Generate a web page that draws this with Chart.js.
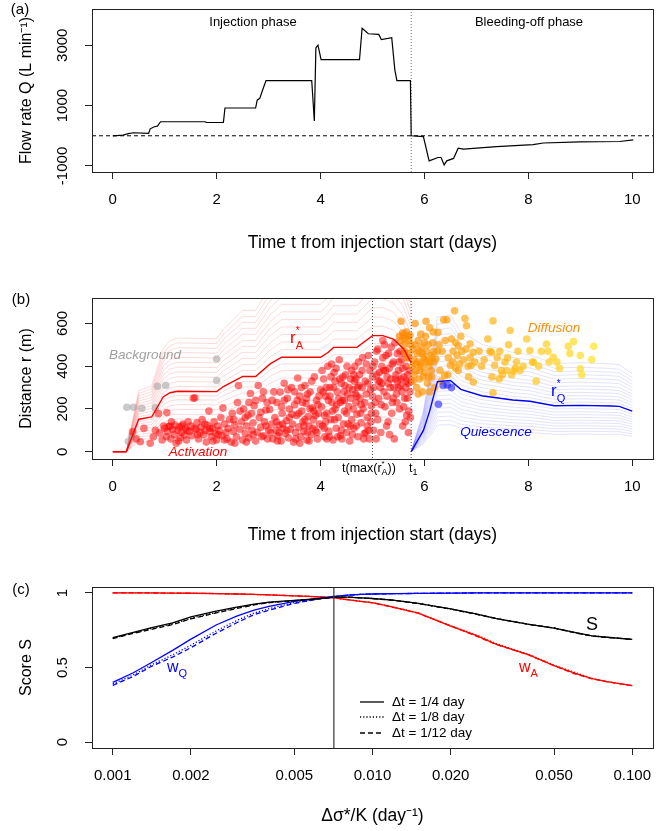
<!DOCTYPE html>
<html>
<head>
<meta charset="utf-8">
<script src="https://cdn.jsdelivr.net/npm/chart.js@4.4.1/dist/chart.umd.min.js"></script>
<style>
  body { margin: 0; background: #fff; width: 665px; height: 831px; overflow: hidden; position: relative; }
  canvas { position: absolute; left: 0; }
</style>
</head>
<body>
<canvas id="chartA" width="665" height="265" style="top:0px"></canvas>
<canvas id="chartB" width="665" height="290" style="top:265px"></canvas>
<canvas id="chartC" width="665" height="276" style="top:555px"></canvas>
<script>
// ---- panel (a): flow rate ----
const flowT = [0, 0.2, 0.3, 0.4, 0.69, 0.72, 0.8, 0.86, 0.92, 1.78, 1.8, 2.13, 2.16, 2.75, 2.78, 2.83, 2.89, 2.95,
  3.83, 3.88, 3.91, 3.95, 4.01, 4.75, 4.8, 4.92, 5.12, 5.17, 5.37, 5.43, 5.47, 5.73, 5.745, 5.98, 6.09, 6.26,
  6.32, 6.38, 6.43, 6.56, 6.65, 6.75, 7.39, 8.09, 8.29, 8.99, 9.76, 10.02];
const flowQ = [0, 20, 70, 100, 80, 230, 300, 320, 465, 465, 440, 445, 920, 920, 1180, 1240, 1540, 1830,
  1830, 487, 2910, 3000, 2520, 2520, 3560, 3380, 3360, 3190, 3250, 2185, 1830, 1830, 0, -30, -830, -720,
  -720, -965, -830, -750, -410, -440, -360, -295, -240, -205, -190, -135];
const dayTicks = [0, 2, 4, 6, 8, 10];
const dayLabels = ['0', '2', '4', '6', '8', '10'];
const flowTicks = [-1000, 1000, 3000];
const flowLabels = ['-1000', '1000', '3000'];
const t1 = 5.745;

// ---- panel (b): distance ----
const raT = [0, 0.26, 0.5, 0.75, 0.97, 1.1, 1.25, 2.0, 2.13, 2.5, 2.75, 3.03, 3.25, 4.0, 4.15, 4.25, 4.7, 5.0, 5.2, 5.4, 5.6, 5.745];
const raR = [0, 0, 152, 163, 256, 276, 283, 281, 305, 352, 352, 411, 442, 442, 465, 488, 488, 543, 543, 527, 481, 415];
const rqT = [5.745, 5.98, 6.1, 6.25, 6.5, 6.7, 7.1, 7.7, 8.03, 8.5, 9.0, 9.6, 9.75, 10.0];
const rqR = [0, 100, 190, 328, 333, 292, 262, 242, 236, 215, 217, 214, 212, 190];
// relative levels of the faint curves, read against r_A* and r_Q*
const raFan = [0.3, 0.38, 0.46, 0.54, 0.62, 0.7, 0.78, 0.86, 0.93, 1.08, 1.16, 1.24, 1.32, 1.4, 1.48, 1.56, 1.64, 1.72, 1.8, 1.88];
const rqFan = [0.38, 0.44, 0.5, 0.56, 0.62, 0.68, 0.74, 0.8, 0.86, 0.93, 1.07, 1.14, 1.21, 1.28, 1.35, 1.42, 1.5, 1.58, 1.66, 1.74, 1.82, 1.92];
const tMaxRA = 5.0;
const distTicks = [0, 200, 400, 600];
const distLabels = ['0', '200', '400', '600'];

const backgroundPts = [[0.27,208],[0.4,208],[0.56,203],[0.86,306],[1.02,310],[2.0,434],[2.0,333],[0.3,48],[0.36,72],[0.82,205]];
const activationPts = [
  [0.38,93],[0.45,60],[0.53,47],[0.6,109],[0.72,40],[0.78,70],[0.82,100],[0.88,178],[0.9,88],[0.95,55],[0.98,120],[1.0,110],
  [1.04,183],[1.05,95],[1.08,118],[1.1,120],[1.12,60],[1.15,105],[1.18,80],[1.2,125],[1.22,40],[1.25,100],[1.28,115],[1.3,65],
  [1.32,90],[1.35,130],[1.38,78],[1.4,110],[1.42,55],[1.45,140],[1.47,95],[1.5,120],[1.52,75],[1.55,250],[1.58,252],[1.6,105],
  [1.62,135],[1.65,60],[1.68,90],[1.7,115],[1.72,150],[1.75,80],[1.78,100],[1.8,45],[1.82,125],[1.85,190],[1.87,95],[1.9,70],
  [1.92,110],[1.95,140],[1.98,85],[2.0,55],[1.13,140],[1.27,50],[1.43,100],[1.63,80],[1.77,130],[1.93,50],[1.57,110],[1.33,120],
  [1.03,70],[1.87,110],
  [2.02,120],[2.05,100],[2.08,160],[2.1,75],[2.12,205],[2.15,130],[2.18,90],[2.2,60],[2.22,110],[2.25,150],[2.28,45],[2.3,180],
  [2.32,95],[2.35,125],[2.38,70],[2.4,230],[2.42,310],[2.45,105],[2.48,140],[2.5,55],[2.52,200],[2.55,85],[2.58,120],[2.6,170],
  [2.62,65],[2.65,272],[2.68,100],[2.7,135],[2.72,215],[2.75,50],[2.78,90],[2.8,310],[2.82,160],[2.85,115],[2.88,250],[2.9,75],
  [2.92,140],[2.95,195],[2.98,60],[3.0,100],[2.45,190],[2.55,160],[2.7,80],[2.85,185],[2.62,230],[2.35,40],[2.15,55],[2.75,240],
  [2.95,120],[2.9,280],[2.03,80],[2.33,150],[2.57,45],[2.67,180],[2.87,70],[2.97,230],
  [3.02,198],[3.04,90],[3.06,130],[3.08,60],[3.1,280],[3.12,160],[3.14,100],[3.16,230],[3.18,75],[3.2,125],[3.22,279],[3.24,50],
  [3.26,180],[3.28,110],[3.3,320],[3.32,85],[3.34,145],[3.36,250],[3.38,65],[3.4,200],[3.42,105],[3.44,300],[3.46,130],[3.48,45],
  [3.5,220],[3.52,90],[3.54,170],[3.56,345],[3.58,115],[3.6,260],[3.62,70],[3.64,190],[3.66,140],[3.68,95],[3.7,310],[3.72,225],
  [3.74,55],[3.76,165],[3.78,120],[3.8,280],[3.82,80],[3.84,205],[3.86,150],[3.88,350],[3.9,100],[3.92,240],[3.94,60],[3.96,180],
  [3.98,130],[4.0,290],[3.15,140],[3.25,210],[3.35,100],[3.45,175],[3.55,240],[3.65,230],[3.75,270],[3.85,110],[3.95,220],[3.6,40],
  [3.7,150],[3.8,200],[3.5,280],[3.4,160],[3.3,240],[3.2,90],[3.9,170],[3.75,90],[3.07,240],[3.17,50],[3.27,130],[3.37,290],
  [3.52,60],[3.58,180],[3.63,300],[3.68,120],[3.73,250],[3.78,50],[3.83,330],[3.87,190],[3.93,90],[3.97,260],
  [4.02,210],[4.04,120],[4.06,340],[4.08,70],[4.1,260],[4.12,180],[4.14,400],[4.16,95],[4.18,300],[4.2,150],[4.22,230],[4.24,55],
  [4.26,370],[4.28,200],[4.3,110],[4.32,280],[4.34,160],[4.36,430],[4.38,75],[4.4,320],[4.42,240],[4.44,130],[4.46,190],[4.48,360],
  [4.5,90],[4.52,270],[4.54,210],[4.56,50],[4.58,340],[4.6,150],[4.62,290],[4.64,110],[4.66,400],[4.68,230],[4.7,175],[4.72,70],
  [4.74,310],[4.76,250],[4.78,135],[4.8,380],[4.82,200],[4.84,85],[4.86,330],[4.88,270],[4.9,160],[4.92,450],[4.94,60],[4.96,290],
  [4.98,215],[5.0,350],[4.05,280],[4.15,240],[4.25,300],[4.35,250],[4.45,280],[4.55,300],[4.65,330],[4.75,360],[4.85,230],[4.95,380],
  [4.1,140],[4.2,350],[4.3,390],[4.4,100],[4.5,180],[4.6,380],[4.7,260],[4.8,300],[4.9,120],[5.0,260],[4.12,60],[4.33,70],
  [4.57,120],[4.83,60],[4.93,100],[4.23,190],[4.43,350],[4.63,200],[4.73,420],[4.88,410],[4.47,310],[4.67,270],[4.78,220],[4.98,180],
  [4.38,230],[4.28,330],[4.18,260],[4.08,170],[4.58,250],[4.68,340],[4.03,380],[4.07,110],[4.11,300],[4.17,70],[4.21,410],[4.27,150],
  [4.31,220],[4.37,340],[4.41,60],[4.46,240],[4.51,400],[4.53,130],[4.61,80],[4.64,360],[4.69,120],[4.71,300],[4.77,180],[4.81,440],
  [4.87,90],[4.91,320],[4.97,140],
  [5.02,300],[5.04,420],[5.06,180],[5.08,360],[5.1,480],[5.12,250],[5.14,330],[5.16,90],[5.18,400],[5.2,520],[5.22,280],[5.24,210],
  [5.26,450],[5.28,350],[5.3,140],[5.32,390],[5.34,300],[5.36,490],[5.38,230],[5.4,420],[5.42,60],[5.44,340],[5.46,270],[5.48,460],
  [5.5,380],[5.52,200],[5.54,310],[5.56,430],[5.58,120],[5.6,350],[5.62,250],[5.64,400],[5.66,170],[5.68,320],[5.7,440],[5.72,280],
  [5.05,230],[5.15,300],[5.25,380],[5.35,340],[5.45,360],[5.55,340],[5.65,330],[5.1,150],[5.2,440],[5.3,320],[5.4,250],[5.5,300],
  [5.6,210],[5.7,190],[5.08,470],[5.18,320],[5.28,260],[5.38,410],[5.48,330],[5.58,390],[5.68,360],[5.02,100],[5.33,80],[5.63,140],
  [5.23,500],[5.43,510],[5.13,370],[5.53,470],[5.01,400],[5.07,60],[5.11,330],[5.17,220],[5.21,380],[5.27,120],[5.31,460],[5.37,180],
  [5.41,300],[5.47,230],[5.51,420],[5.57,280],[5.61,460],[5.67,250],[5.71,380],[5.74,330],[5.73,160],[5.69,90],[5.64,300]
];
const diffusionPts = [
  [5.52,540],[5.55,520],[5.58,555],[5.6,545],[5.62,530],[5.65,560],[5.68,540],[5.7,520],[5.72,545],[5.55,610],[5.62,470],
  [5.66,440],[5.7,460],[5.73,500],[5.6,500],
  [5.78,480],[5.8,430],[5.82,600],[5.84,380],[5.86,460],[5.88,520],[5.9,340],[5.92,410],[5.94,490],[5.96,280],[5.98,440],
  [6.0,370],[6.02,540],[6.04,470],[6.06,320],[6.08,400],[6.1,580],[6.12,450],[6.14,350],[6.16,510],[6.18,420],[6.2,300],
  [5.8,360],[5.85,300],[5.9,470],[5.95,400],[6.0,510],[6.05,420],[6.1,280],[6.15,440],[5.78,330],[5.83,410],[5.88,270],
  [5.93,550],[5.98,350],[6.03,610],[6.08,350],[6.13,380],[6.18,470],[5.82,500],[5.96,460],[6.07,500],[5.76,400],[5.87,420],
  [6.11,420],[5.91,380],[6.01,430],[6.17,560],
  [6.22,434],[6.26,558],[6.28,500],[6.3,380],[6.34,470],[6.37,617],[6.39,357],[6.4,520],[6.43,617],[6.46,440],[6.5,405],
  [6.52,527],[6.55,470],[6.58,659],[6.6,390],[6.63,450],[6.65,496],[6.68,410],[6.7,540],[6.72,470],[6.75,430],[6.78,623],
  [6.8,480],[6.81,589],[6.84,400],[6.88,505],[6.9,403],[6.94,465],[6.94,326],[6.97,420],[6.25,470],[6.45,360],[6.55,420],
  [6.65,380],[6.85,350],[6.32,330],[6.6,510],[6.88,440],
  [7.05,470],[7.1,400],[7.15,430],[7.22,527],[7.26,470],[7.29,465],[7.32,612],[7.32,276],[7.35,403],[7.4,440],[7.45,470],
  [7.48,380],[7.5,360],[7.55,420],[7.58,380],[7.62,500],[7.65,567],[7.68,360],[7.72,380],[7.75,390],[7.8,470],[7.84,380],
  [7.9,400],[7.97,527],[7.3,350],[7.6,440],[7.44,340],[7.77,420],
  [8.03,473],[8.08,420],[8.1,418],[8.2,400],[8.25,470],[8.35,504],[8.38,470],[8.4,420],[8.48,442],[8.6,390],[8.77,493],
  [8.87,515],[8.8,460],[9.0,450],[9.0,388],[9.03,360],[9.22,431],[9.26,493],[8.55,420],[8.15,330]
];
const quiescencePts = [[6.27,222],[6.36,310],[6.44,312],[6.52,300]];

// ---- panel (c): score ----
const dsK = [0.001, 0.0012, 0.0014, 0.0017, 0.002, 0.0025, 0.003, 0.0035, 0.004, 0.005, 0.006, 0.0071, 0.008,
  0.009, 0.01, 0.012, 0.015, 0.02, 0.025, 0.03, 0.04, 0.05, 0.06, 0.07, 0.08, 0.1];
const sQuarter = [0.70, 0.735, 0.765, 0.80, 0.84, 0.878, 0.905, 0.925, 0.938, 0.95, 0.96, 0.972, 0.972, 0.967, 0.963, 0.952, 0.93, 0.893, 0.86, 0.828, 0.79, 0.764, 0.735, 0.712, 0.703, 0.689];
const sEighth = [0.697, 0.732, 0.76, 0.793, 0.83, 0.87, 0.9, 0.922, 0.936, 0.949, 0.959, 0.971, 0.972, 0.967, 0.963, 0.952, 0.93, 0.892, 0.859, 0.828, 0.79, 0.765, 0.734, 0.712, 0.703, 0.689];
const sTwelfth = [0.694, 0.729, 0.755, 0.788, 0.826, 0.866, 0.896, 0.92, 0.935, 0.948, 0.958, 0.97, 0.972, 0.967, 0.962, 0.951, 0.929, 0.892, 0.858, 0.828, 0.789, 0.765, 0.733, 0.711, 0.702, 0.688];
const wqQuarter = [0.40, 0.465, 0.53, 0.615, 0.69, 0.785, 0.845, 0.885, 0.91, 0.944, 0.96, 0.977, 0.985, 0.99, 0.993, 0.995, 0.997, 0.999, 1, 1, 1, 1, 1, 1, 1, 1];
const wqEighth = [0.39, 0.45, 0.515, 0.585, 0.65, 0.745, 0.815, 0.865, 0.895, 0.935, 0.957, 0.975, 0.985, 0.99, 0.993, 0.995, 0.997, 0.999, 1, 1, 1, 1, 1, 1, 1, 1];
const wqTwelfth = [0.38, 0.44, 0.505, 0.57, 0.633, 0.73, 0.8, 0.855, 0.885, 0.93, 0.955, 0.974, 0.985, 0.99, 0.993, 0.995, 0.997, 0.999, 1, 1, 1, 1, 1, 1, 1, 1];
const waQuarter = [1, 1, 1, 0.999, 0.998, 0.996, 0.993, 0.99, 0.987, 0.981, 0.975, 0.968, 0.955, 0.944, 0.935, 0.905, 0.865, 0.778, 0.715, 0.655, 0.585, 0.513, 0.463, 0.425, 0.405, 0.378];
const waEighth = [1, 1, 1, 0.999, 0.998, 0.996, 0.993, 0.99, 0.987, 0.981, 0.975, 0.968, 0.955, 0.944, 0.935, 0.906, 0.867, 0.781, 0.721, 0.66, 0.587, 0.515, 0.468, 0.427, 0.406, 0.379];
const waTwelfth = [1, 1, 1, 0.999, 0.998, 0.996, 0.993, 0.99, 0.987, 0.981, 0.975, 0.968, 0.955, 0.944, 0.934, 0.904, 0.864, 0.779, 0.712, 0.654, 0.584, 0.512, 0.458, 0.424, 0.404, 0.377];
const kTicks = [0.001, 0.002, 0.005, 0.01, 0.02, 0.05, 0.1];
const kLabels = ['0.001', '0.002', '0.005', '0.010', '0.020', '0.050', '0.100'];
const scoreTicks = [0, 0.5, 1];
const scoreLabels = ['0', '0.5', '1'];
const kOpt = 0.0071;

// ---- shared helpers ----
const FONT = '"Liberation Sans", Arial, Helvetica, sans-serif';
Chart.defaults.font.family = FONT;
Chart.defaults.color = '#000';
const TICK_SIZE = 15;
const XTITLE_SIZE = 17.5;
const YTITLE_SIZE = 16;

const measureCtx = document.createElement('canvas').getContext('2d');
function textWidth(s, size) {
  measureCtx.font = size + 'px ' + FONT;
  return measureCtx.measureText(s).width;
}
function yLabelPad(labels) {
  const w = Math.max(...labels.map(l => textWidth(l, TICK_SIZE)));
  return 92 - 7 - 63 - w / 2;
}
const tickGrid = { display: true, drawOnChartArea: false, drawTicks: true, tickLength: 7, color: '#222', lineWidth: 1 };

function xAxis(type, min, max, ticks, labels, title, height, titlePad) {
  return {
    type: type, min: min, max: max, position: 'bottom',
    grid: tickGrid, border: { display: false },
    afterBuildTicks: s => { s.ticks = ticks.map(v => ({ value: v })); },
    afterFit: s => { s.height = height; s.paddingLeft = 0; s.paddingRight = 0; },
    ticks: { autoSkip: false, minRotation: 0, maxRotation: 0, padding: 12, font: { size: TICK_SIZE }, color: '#000',
      callback: (v, i) => labels[i] },
    title: { display: true, text: title, font: { size: XTITLE_SIZE }, color: '#000', padding: { top: 0, bottom: titlePad } }
  };
}
function yAxis(min, max, ticks, labels, title) {
  return {
    type: 'linear', min: min, max: max, position: 'left',
    grid: tickGrid, border: { display: false },
    afterBuildTicks: s => { s.ticks = ticks.map(v => ({ value: v })); },
    afterFit: s => { s.width = 92; s.paddingTop = 0; s.paddingBottom = 0; },
    ticks: { autoSkip: false, minRotation: 90, maxRotation: 90, crossAlign: 'center', padding: yLabelPad(labels),
      font: { size: TICK_SIZE }, color: '#000', callback: (v, i) => labels[i] },
    title: { display: true, text: title, font: { size: YTITLE_SIZE }, color: '#000', padding: { top: 17, bottom: 0 } }
  };
}
function drawBox(chart) {
  const a = chart.chartArea, c = chart.ctx;
  c.save();
  c.strokeStyle = '#222';
  c.lineWidth = 1;
  c.strokeRect(Math.round(a.left) + 0.5, Math.round(a.top) + 0.5, Math.round(a.right - a.left), Math.round(a.bottom - a.top));
  c.restore();
}
function vline(chart, xv, dash, color, width) {
  const a = chart.chartArea, c = chart.ctx, px = chart.scales.x.getPixelForValue(xv);
  c.save();
  c.strokeStyle = color; c.lineWidth = width; c.setLineDash(dash);
  c.beginPath(); c.moveTo(px, a.top); c.lineTo(px, a.bottom); c.stroke();
  c.restore();
}
function hline(chart, yv, dash, color, width) {
  const a = chart.chartArea, c = chart.ctx, py = chart.scales.y.getPixelForValue(yv);
  c.save();
  c.strokeStyle = color; c.lineWidth = width; c.setLineDash(dash);
  c.beginPath(); c.moveTo(a.left, py); c.lineTo(a.right, py); c.stroke();
  c.restore();
}
function label(c, s, x, y, size, color, style, align) {
  c.save();
  c.font = (style || '') + ' ' + size + 'px ' + FONT;
  c.fillStyle = color;
  c.textAlign = align || 'center';
  c.textBaseline = 'middle';
  c.fillText(s, x, y);
  c.restore();
}
// parts: [text, size, dy, stackOnPrevious]; y is the baseline
function rich(c, parts, x, y, color, align) {
  c.save();
  c.fillStyle = color;
  c.textBaseline = 'alphabetic';
  let w = 0, prevX = 0;
  const xs = [];
  parts.forEach(p => {
    const pw = textWidth(p[0], p[1]);
    if (p[3]) { xs.push(prevX); w = Math.max(w, prevX + pw); }
    else { prevX = w; xs.push(w); w += pw; }
  });
  const x0 = align === 'center' ? x - w / 2 : x;
  parts.forEach((p, i) => {
    c.font = p[1] + 'px ' + FONT;
    c.fillText(p[0], x0 + xs[i], y + p[2]);
  });
  c.restore();
}
function pts(arr) { return arr.map(p => ({ x: p[0], y: p[1] })); }
function series(xs, ys) { return xs.map((x, i) => ({ x: x, y: ys[i] })); }
function scaled(xs, ys, f) { return xs.map((x, i) => ({ x: x, y: ys[i] * f })); }

const baseOptions = {
  responsive: false, animation: false, devicePixelRatio: 1,
  plugins: { legend: { display: false }, tooltip: { enabled: false } }
};

// ---- chart (a) ----
new Chart(document.getElementById('chartA'), {
  type: 'scatter',
  data: {
    datasets: [{
      data: series(flowT, flowQ), showLine: true, borderColor: '#000', borderWidth: 1.2,
      pointRadius: 0, tension: 0
    }]
  },
  options: Object.assign({}, baseOptions, {
    layout: { padding: { top: 9, right: 12, bottom: 0, left: 0 } },
    scales: {
      x: xAxis('linear', -0.4, 10.4, dayTicks, dayLabels, 'Time t from injection start (days)', 93, 11),
      y: yAxis(-1200, 4200, flowTicks, flowLabels, 'Flow rate Q (L min\u207B\u00B9)')
    }
  }),
  plugins: [{
    id: 'decorA',
    beforeDatasetsDraw(chart) {
      hline(chart, 0, [4, 3], '#000', 1);
      vline(chart, t1, [1, 2], '#777', 1);
    },
    afterDraw(chart) {
      const c = chart.ctx;
      drawBox(chart);
      label(c, 'Injection phase', 253, 22, 13, '#000');
      label(c, 'Bleeding-off phase', 529, 22, 13, '#000');
      label(c, '(a)', 20, 10, 15, '#000');
    }
  }]
});

// ---- chart (b) ----
const faintRed = 'rgba(255, 0, 0, 0.15)';
const faintBlue = 'rgba(40, 40, 255, 0.13)';
const fanSets = raFan.map(f => ({
  data: scaled(raT, raR, f), showLine: true, borderColor: faintRed, borderWidth: 1, pointRadius: 0, order: 3
})).concat(rqFan.map(f => ({
  data: scaled(rqT, rqR, f), showLine: true, borderColor: faintBlue, borderWidth: 1, pointRadius: 0, order: 3
})));
function diffusionColor(ctx) {
  const t = ctx.raw ? ctx.raw.x : 6;
  const f = Math.min(1, Math.max(0, (t - 5.6) / 3.6));
  const g = Math.round(135 + f * 90), b = Math.round(f * 30);
  return 'rgba(255,' + g + ',' + b + ',0.68)';
}
new Chart(document.getElementById('chartB'), {
  type: 'scatter',
  data: {
    datasets: [
      { data: series(raT, raR), showLine: true, borderColor: '#ff0000', borderWidth: 1.4, pointRadius: 0, order: 0 },
      { data: series(rqT, rqR), showLine: true, borderColor: '#0000ff', borderWidth: 1.4, pointRadius: 0, order: 0 },
      { data: pts(quiescencePts), pointRadius: 3.8, borderWidth: 0, backgroundColor: 'rgba(30,30,255,0.6)', order: 1 },
      { data: pts(diffusionPts), pointRadius: 3.8, borderWidth: 0, backgroundColor: diffusionColor, order: 1 },
      { data: pts(activationPts), pointRadius: 3.8, borderWidth: 0, backgroundColor: 'rgba(255,0,0,0.52)', order: 2 },
      { data: pts(backgroundPts), pointRadius: 3.8, borderWidth: 0, backgroundColor: 'rgba(150,150,150,0.5)', order: 2 }
    ].concat(fanSets)
  },
  options: Object.assign({}, baseOptions, {
    layout: { padding: { top: 33, right: 12, bottom: 0, left: 0 } },
    scales: {
      x: xAxis('linear', -0.4, 10.4, dayTicks, dayLabels, 'Time t from injection start (days)', 96, 9),
      y: yAxis(-34, 719, distTicks, distLabels, 'Distance r (m)')
    }
  }),
  plugins: [{
    id: 'decorB',
    afterDatasetsDraw(chart) {
      vline(chart, tMaxRA, [1, 2], '#555', 1);
      vline(chart, t1, [1, 2], '#555', 1);
    },
    afterDraw(chart) {
      const c = chart.ctx;
      drawBox(chart);
      label(c, '(b)', 21, 35, 15, '#000');
      label(c, 'Background', 145, 90, 13.5, '#a0a0a0', 'italic');
      label(c, 'Activation', 198, 187, 13.5, '#ff0000', 'italic');
      label(c, 'Diffusion', 554, 63, 13.5, '#ff8c00', 'italic');
      label(c, 'Quiescence', 496, 167, 13.5, '#0000ff', 'italic');
      rich(c, [['r', 17, 0], ['A', 11, 6], ['*', 10, -9, true]], 290, 78, '#ff0000');
      rich(c, [['r', 17, 0], ['Q', 11, 6], ['*', 10, -9, true]], 551, 131, '#0000ff');
      rich(c, [['t(max(r', 12.5, 0], ['A', 9, 3], ['*', 8, -6, true], ['))', 12.5, 0]], 342, 207, '#000');
      rich(c, [['t', 12.5, 0], ['1', 9, 3]], 409, 207, '#000');
    }
  }]
});

// ---- chart (c) ----
const dotted = [1.2, 2];
const dashed = [5, 3];
function scoreSet(ys, color, dash) {
  return { data: series(dsK, ys), showLine: true, borderColor: color, borderWidth: 1.3, borderDash: dash, pointRadius: 0, tension: 0 };
}
new Chart(document.getElementById('chartC'), {
  type: 'scatter',
  data: {
    datasets: [
      scoreSet(sQuarter, '#000', []), scoreSet(sEighth, '#000', dotted), scoreSet(sTwelfth, '#000', dashed),
      scoreSet(wqQuarter, '#0000ff', []), scoreSet(wqEighth, '#0000ff', dotted), scoreSet(wqTwelfth, '#0000ff', dashed),
      scoreSet(waQuarter, '#ff0000', []), scoreSet(waEighth, '#ff0000', dotted), scoreSet(waTwelfth, '#ff0000', dashed)
    ]
  },
  options: Object.assign({}, baseOptions, {
    layout: { padding: { top: 32, right: 12, bottom: 0, left: 0 } },
    scales: {
      x: xAxis('logarithmic', 0.000832, 0.1202, kTicks, kLabels, '\u0394\u03C3*/K (day\u207B\u00B9)', 83, 4),
      y: yAxis(-0.04, 1.04, scoreTicks, scoreLabels, 'Score S')
    }
  }),
  plugins: [{
    id: 'decorC',
    afterDatasetsDraw(chart) {
      vline(chart, kOpt, [], '#444', 1.3);
    },
    afterDraw(chart) {
      const c = chart.ctx;
      drawBox(chart);
      label(c, '(c)', 21, 35, 15, '#000');
      label(c, 'S', 592, 70, 18, '#000');
      rich(c, [['w', 16, 0], ['A', 11, 5]], 519, 117, '#ff0000');
      rich(c, [['w', 16, 0], ['Q', 11, 5]], 167, 117, '#0000ff');
      const rows = [['\u0394t = 1/4 day', []], ['\u0394t = 1/8 day', dotted], ['\u0394t = 1/12 day', dashed]];
      const rowY = [147, 162, 178];
      rows.forEach((r, i) => {
        c.save();
        c.strokeStyle = '#000'; c.lineWidth = 1.3; c.setLineDash(r[1]);
        c.beginPath(); c.moveTo(360, rowY[i]); c.lineTo(384, rowY[i]); c.stroke();
        c.restore();
        label(c, r[0], 392, rowY[i], 13.5, '#000', '', 'left');
      });
    }
  }]
});
</script>
</body>
</html>
